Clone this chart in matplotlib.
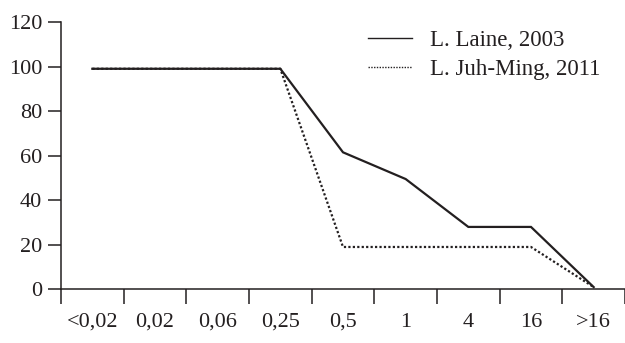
import matplotlib
matplotlib.use("Agg")
import matplotlib.pyplot as plt
import numpy as np

categories = ["<0,02", "0,02", "0,06", "0,25", "0,5", "1", "4", "16", ">16"]
laine_2003 = [99, 99, 99, 99, 61.5, 49.5, 28, 28, 1]
juh_ming_2011 = [99, 99, 99, 99, 19, 19, 19, 19, 1]
yticks = [0, 20, 40, 60, 80, 100, 120]

plt.rcParams['font.family'] = ['Liberation Serif', 'DejaVu Serif']
plt.rcParams['font.size'] = 16

fig = plt.figure(figsize=(6.25, 3.43), dpi=100)
ax = fig.add_axes([61/625, 1 - 289.3/343, 1 - 61/625, (289.3 - 22)/343])
ink = '#231f20'
x = np.arange(len(categories))
ax.plot(x, laine_2003, color=ink, lw=1.6, label='L. Laine, 2003', solid_joinstyle='miter')
ax.plot(x, juh_ming_2011, color=ink, lw=1.6, linestyle=(0, (1, 1)), label='L. Juh-Ming, 2011')

ax.set_xlim(-0.5, len(categories) - 0.5)
ax.set_ylim(0, 120)
ax.set_yticks(yticks)
ax.set_xticks(np.arange(len(categories) + 1) - 0.5)
ax.set_xticklabels([])
ax.set_xticks(x, minor=True)
ax.set_xticklabels(categories, minor=True)
ax.tick_params(axis='x', which='major', length=10.5, width=1.1, direction='out', color=ink)
ax.tick_params(axis='x', which='minor', length=0, pad=17, labelcolor=ink)
ax.tick_params(axis='y', length=9.5, width=1.1, direction='out', pad=4, color=ink, labelcolor=ink)
for s in ['top', 'right']:
    ax.spines[s].set_visible(False)
for s in ['left', 'bottom']:
    ax.spines[s].set_linewidth(1.1)
    ax.spines[s].set_color(ink)

leg = ax.legend(loc='upper left', bbox_to_anchor=(368/625, 1 - 30/343), bbox_transform=fig.transFigure,
                frameon=False, borderpad=0, borderaxespad=0, handlelength=1.9, handletextpad=0.8,
                labelspacing=0.33, prop={'size': 16.5})
for t in leg.get_texts():
    t.set_color(ink)
for l in leg.get_lines():
    l.set_linewidth(1.0)

fig.savefig('out.png', dpi=100)
